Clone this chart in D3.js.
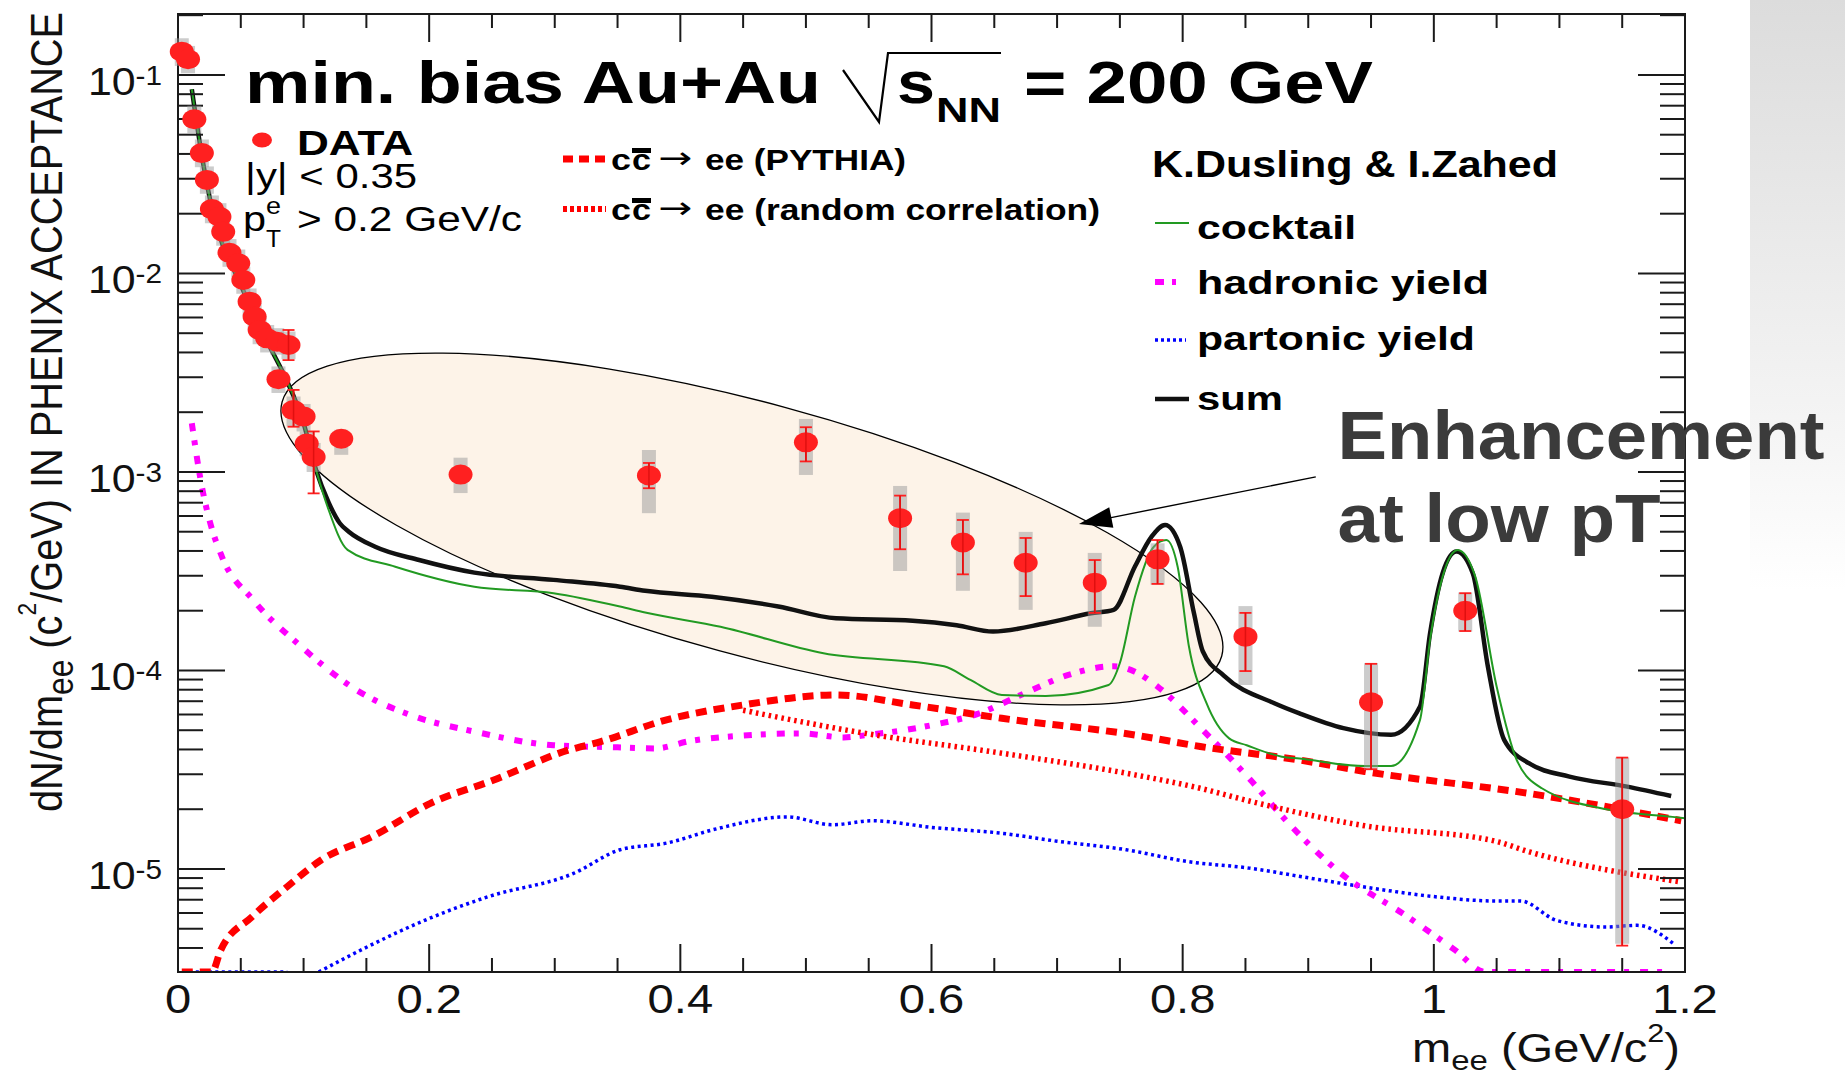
<!DOCTYPE html>
<html>
<head>
<meta charset="utf-8">
<title>Dielectron mass spectrum, min. bias Au+Au</title>
<script src="https://d3js.org/d3.v7.min.js"></script>
<style>
  body { margin: 0; background: #fff; }
  text { font-family: "Liberation Sans", Arial, Helvetica, sans-serif; }
</style>
</head>
<body>
<script>
const W = 1845, H = 1075;
const frame = {left: 178, right: 1685, top: 14, bottom: 972};

// ---- data points (mass in GeV/c^2, yield dN/dm) ----
const dataMass  = [0.003, 0.008, 0.013, 0.019, 0.023, 0.027, 0.033, 0.036, 0.041, 0.048, 0.052, 0.057,
                   0.061, 0.065, 0.071, 0.079, 0.080, 0.088, 0.092, 0.100, 0.1025, 0.108, 0.130, 0.225,
                   0.375, 0.500, 0.575, 0.625, 0.675, 0.730, 0.780, 0.850, 0.950, 1.025, 1.150];
const dataYield = [0.131, 0.120, 0.0598, 0.0404, 0.0296, 0.0211, 0.0193, 0.0162, 0.0127, 0.01125, 0.00927, 0.00721,
                   0.00606, 0.00519, 0.00471, 0.00453, 0.00293, 0.00436, 0.00205, 0.0019, 0.00139, 0.00119, 0.00147, 9.7e-4,
                   9.6e-4, 1.41e-3, 5.85e-4, 4.41e-4, 3.49e-4, 2.77e-4, 3.63e-4, 1.48e-4, 6.92e-5, 2.0e-4, 2.0e-5];
// statistical errors (null = hidden behind the marker)
const statLow  = [null, null, null, null, null, null, null, null, null, null, null, null,
                  null, null, null, null, null, 3.66e-3, 1.69e-3, null, null, 7.8e-4, null, null,
                  8.28e-4, 1.13e-3, 4.08e-4, 3.05e-4, 2.37e-4, 1.95e-4, 2.73e-4, 9.93e-5, 3.18e-5, 1.58e-4, 4.11e-6];
const statHigh = [null, null, null, null, null, null, null, null, null, null, null, null,
                  null, null, null, null, null, 5.19e-3, 2.59e-3, null, null, 1.6e-3, null, null,
                  1.11e-3, 1.68e-3, 7.6e-4, 5.73e-4, 4.65e-4, 3.6e-4, 4.54e-4, 1.95e-4, 1.08e-4, 2.45e-4, 3.64e-5];
// systematic errors (gray boxes)
const sysLow  = [0.111, 0.102, 0.0508, 0.0343, 0.0252, 0.0179, 0.0164, 0.0138, 0.0108, 0.0096, 0.0079, 0.0061,
                 0.0052, 0.0044, 0.0040, 0.0039, 0.0025, 0.0037, 0.0017, 0.0016, 0.0012, 0.0010, 1.22e-3, 7.83e-4,
                 6.2e-4, 9.66e-4, 3.17e-4, 2.52e-4, 2.02e-4, 1.66e-4, 2.7e-4, 8.45e-5, 3.15e-5, 1.57e-4, 4.2e-6];
const sysHigh = [0.153, 0.140, 0.070, 0.0473, 0.0346, 0.0247, 0.0226, 0.019, 0.0149, 0.0132, 0.0108, 0.0084,
                 0.0071, 0.0061, 0.0055, 0.0053, 0.0034, 0.0051, 0.0024, 0.0022, 0.0016, 0.0014, 1.63e-3, 1.18e-3,
                 1.29e-3, 1.85e-3, 8.5e-4, 6.24e-4, 4.99e-4, 3.91e-4, 4.37e-4, 2.11e-4, 1.09e-4, 2.47e-4, 3.64e-5];

// ---- model curves ----
const sumMass  = [0.011, 0.020, 0.028, 0.036, 0.047, 0.060, 0.073, 0.0865, 0.100, 0.110, 0.120, 0.129, 0.136, 0.157,
                  0.192, 0.236, 0.299, 0.352, 0.372, 0.425, 0.478, 0.524, 0.585, 0.620, 0.649, 0.691, 0.727, 0.745,
                  0.762, 0.775, 0.786, 0.798, 0.809, 0.816, 0.833, 0.873, 0.893, 0.928, 0.966, 0.989, 0.997, 1.007,
                  1.018, 1.031, 1.043, 1.056, 1.076, 1.108, 1.154, 1.189];
const sumYield = [0.0847, 0.0359, 0.0201, 0.01365, 0.00964, 0.00631, 0.00428, 0.0029, 0.00176, 0.00102, 7.0e-4, 5.5e-4, 5.0e-4, 4.2e-4,
                  3.6e-4, 3.11e-4, 2.86e-4, 2.64e-4, 2.52e-4, 2.35e-4, 2.10e-4, 1.83e-4, 1.78e-4, 1.69e-4, 1.57e-4, 1.73e-4, 1.94e-4, 2.02e-4,
                  3.34e-4, 4.7e-4, 5.4e-4, 4.2e-4, 1.94e-4, 1.25e-4, 9.4e-5, 6.84e-5, 6.08e-5, 5.12e-5, 4.74e-5, 6.58e-5, 1.54e-4, 3.09e-4,
                  3.97e-4, 3.09e-4, 1.05e-4, 4.47e-5, 3.4e-5, 2.92e-5, 2.6e-5, 2.33e-5];

const cocktailMass  = [0.011, 0.020, 0.028, 0.036, 0.047, 0.060, 0.073, 0.0865, 0.100, 0.110, 0.119, 0.135, 0.173, 0.236,
                       0.299, 0.352, 0.372, 0.432, 0.514, 0.610, 0.631, 0.656, 0.691, 0.741, 0.750, 0.762, 0.777, 0.787,
                       0.796, 0.805, 0.819, 0.837, 0.851, 0.879, 0.893, 0.945, 0.966, 0.989, 0.997, 1.007, 1.019, 1.033,
                       1.050, 1.066, 1.086, 1.141, 1.190, 1.200];
const cocktailYield = [0.0847, 0.0359, 0.0201, 0.01365, 0.00964, 0.00631, 0.00428, 0.0029, 0.00176, 0.00102, 6.7e-4, 4.05e-4, 3.33e-4, 2.64e-4,
                       2.45e-4, 2.1e-4, 1.96e-4, 1.66e-4, 1.22e-4, 1.05e-4, 8.96e-5, 7.53e-5, 7.44e-5, 8.45e-5, 1.09e-4, 2.35e-4, 4.2e-4, 4.54e-4,
                       3.33e-4, 1.32e-4, 6.84e-5, 4.55e-5, 4.2e-5, 3.68e-5, 3.6e-5, 3.3e-5, 3.3e-5, 5.64e-5, 1.43e-4, 2.97e-4, 4.05e-4, 2.97e-4,
                       8.3e-5, 3.54e-5, 2.55e-5, 1.98e-5, 1.83e-5, 1.8e-5];

const hadronMass  = [0.011, 0.019, 0.025, 0.035, 0.060, 0.098, 0.142, 0.189, 0.236, 0.299, 0.350, 0.380, 0.407, 0.450,
                     0.496, 0.530, 0.549, 0.600, 0.638, 0.674, 0.709, 0.745, 0.762, 0.780, 0.816, 0.852, 0.887, 0.926,
                     0.975, 1.017, 1.041, 1.060, 1.190];
const hadronYield = [1.76e-3, 8.43e-4, 5.73e-4, 3.74e-4, 2.26e-4, 1.32e-4, 7.98e-5, 5.85e-5, 4.92e-5, 4.2e-5, 4.1e-5, 4.05e-5, 4.4e-5, 4.7e-5,
                     4.82e-5, 4.6e-5, 4.73e-5, 5.3e-5, 6.08e-5, 7.67e-5, 9.5e-5, 1.05e-4, 9.86e-5, 8.3e-5, 5.01e-5, 2.9e-5, 1.63e-5, 9.5e-6,
                     5.98e-6, 3.9e-6, 3.0e-6, 2.0e-6, 2.0e-6];

const partonMass  = [0.009, 0.087, 0.100, 0.112, 0.151, 0.197, 0.247, 0.315, 0.352, 0.389, 0.430, 0.485, 0.521, 0.553,
                     0.600, 0.657, 0.700, 0.755, 0.804, 0.853, 0.902, 0.951, 1.000, 1.049, 1.069, 1.098, 1.137, 1.162, 1.191];
const partonYield = [2e-6, 2e-6, null, 3.0e-6, 4.06e-6, 5.53e-6, 7.25e-6, 9.5e-6, 1.25e-5, 1.35e-5, 1.6e-5, 1.83e-5, 1.67e-5, 1.75e-5,
                     1.62e-5, 1.51e-5, 1.38e-5, 1.25e-5, 1.09e-5, 1.01e-5, 8.98e-6, 8.0e-6, 7.26e-6, 6.9e-6, 6.9e-6, 5.5e-6, 5.1e-6, 5.2e-6, 4.2e-6];

const pythiaMass  = [0.003, 0.027, 0.034, 0.059, 0.087, 0.114, 0.155, 0.201, 0.251, 0.311, 0.336, 0.389, 0.450, 0.524,
                     0.585, 0.656, 0.762, 0.814, 0.893, 0.945, 1.076, 1.197];
const pythiaYield = [2.0e-6, 3.0e-6, 3.9e-6, 5.75e-6, 8.15e-6, 1.11e-5, 1.46e-5, 2.14e-5, 2.8e-5, 3.97e-5, 4.37e-5, 5.64e-5, 6.7e-5, 7.53e-5,
                     6.7e-5, 5.74e-5, 4.73e-5, 4.14e-5, 3.54e-5, 3.1e-5, 2.4e-5, 1.75e-5];

const randomMass  = [0.450, 0.549, 0.656, 0.762, 0.814, 0.853, 0.945, 1.049, 1.076, 1.197];
const randomYield = [6.3e-5, 4.8e-5, 3.83e-5, 2.98e-5, 2.55e-5, 2.2e-5, 1.65e-5, 1.38e-5, 1.22e-5, 8.6e-6];

// ---- ticks ----
const xTickValues = [0, 0.2, 0.4, 0.6, 0.8, 1, 1.2];
const xTickLabels = ['0', '0.2', '0.4', '0.6', '0.8', '1', '1.2'];
const yTickExps   = [-1, -2, -3, -4, -5];

// ---- annotation anchors (data coordinates) ----
const ellipseCenter = [0.457, 5.16e-4];
const arrowFrom = [0.906, 9.44e-4];
const arrowTo   = [0.7174, 5.47e-4];

const x = d3.scaleLinear().domain([0, 1.2]).range([frame.left, frame.right]);
const y = d3.scaleLog().domain([Math.pow(10, -5.519), Math.pow(10, -0.693)])
    .range([frame.bottom, frame.top]).clamp(true);

const svg = d3.select('body').append('svg')
    .attr('width', W)
    .attr('height', H);

const defs = svg.append('defs');
const grad = defs.append('linearGradient').attr('id', 'slideGrad')
    .attr('x1', 0).attr('y1', 0).attr('x2', 0).attr('y2', 1);
grad.append('stop').attr('offset', '0%').attr('stop-color', '#dcdcdc');
grad.append('stop').attr('offset', '42%').attr('stop-color', '#f6f6f6');
grad.append('stop').attr('offset', '55%').attr('stop-color', '#ffffff');
defs.append('clipPath').attr('id', 'plotClip')
    .append('rect')
    .attr('x', frame.left).attr('y', frame.top)
    .attr('width', frame.right - frame.left).attr('height', frame.bottom - frame.top);

svg.append('rect').attr('width', W).attr('height', H).attr('fill', '#fff');
svg.append('rect').attr('x', 1750).attr('y', 0).attr('width', W - 1750).attr('height', H)
    .attr('fill', 'url(#slideGrad)');

// highlighted region
svg.append('ellipse')
    .attr('transform', `translate(${x(ellipseCenter[0])},${y(ellipseCenter[1])}) rotate(15.13)`)
    .attr('rx', 486.7).attr('ry', 126.1)
    .attr('fill', '#fdf3e8')
    .attr('stroke', '#000')
    .attr('stroke-width', 1.3);

// curves
const line = d3.line()
    .defined(d => d[1] != null)
    .x(d => x(d[0]))
    .y(d => y(d[1]))
    .curve(d3.curveMonotoneX);

const curves = [
    {m: partonMass,   v: partonYield,   color: '#0000ff', width: 3.5, dash: '3,3.5'},
    {m: hadronMass,   v: hadronYield,   color: '#ff00ff', width: 6,   dash: '8,9,5,11'},
    {m: randomMass,   v: randomYield,   color: '#ff0000', width: 5.5, dash: '2.5,4'},
    {m: pythiaMass,   v: pythiaYield,   color: '#ff0000', width: 7,   dash: '11,7'},
    {m: sumMass,      v: sumYield,      color: '#111111', width: 4.5, dash: null},
    {m: cocktailMass, v: cocktailYield, color: '#229a22', width: 2,   dash: null}
];

const curveLayer = svg.append('g').attr('clip-path', 'url(#plotClip)');
curveLayer.selectAll('path')
    .data(curves)
    .enter()
    .append('path')
        .attr('d', c => line(d3.zip(c.m, c.v)))
        .attr('fill', 'none')
        .attr('stroke', c => c.color)
        .attr('stroke-width', c => c.width)
        .attr('stroke-dasharray', c => c.dash)
        .attr('stroke-linejoin', 'round');

// frame and ticks
svg.append('rect')
    .attr('x', frame.left).attr('y', frame.top)
    .attr('width', frame.right - frame.left).attr('height', frame.bottom - frame.top)
    .attr('fill', 'none').attr('stroke', '#1a1a1a').attr('stroke-width', 2);

let yTicks = [];
for (let e = -6; e <= 0; e++) {
    for (let k = 1; k <= 9; k++) {
        let v = k * Math.pow(10, e);
        if (v >= y.domain()[0] && v <= y.domain()[1]) yTicks.push({v: v, major: k === 1});
    }
}
let xTicks = d3.range(0, 1.2001, 0.05).map(v => ({v: v, major: Math.abs(v / 0.2 - Math.round(v / 0.2)) < 1e-6}));

let tickG = svg.append('g').attr('stroke', '#1a1a1a').attr('stroke-width', 2);
yTicks.forEach(t => {
    let len = t.major ? 47 : 25;
    tickG.append('line').attr('x1', frame.left).attr('x2', frame.left + len)
        .attr('y1', y(t.v)).attr('y2', y(t.v));
    tickG.append('line').attr('x1', frame.right - len).attr('x2', frame.right)
        .attr('y1', y(t.v)).attr('y2', y(t.v));
});
xTicks.forEach(t => {
    let len = t.major ? 28 : 14;
    tickG.append('line').attr('x1', x(t.v)).attr('x2', x(t.v))
        .attr('y1', frame.bottom).attr('y2', frame.bottom - len);
    tickG.append('line').attr('x1', x(t.v)).attr('x2', x(t.v))
        .attr('y1', frame.top).attr('y2', frame.top + len);
});

// tick labels
svg.selectAll('.xlab')
    .data(xTickValues)
    .enter()
    .append('text')
        .attr('class', 'xlab')
        .attr('transform', d => `translate(${x(d)},1013) scale(1.15,1)`)
        .attr('text-anchor', 'middle')
        .attr('font-size', 41)
        .attr('fill', '#111')
        .text((d, i) => xTickLabels[i]);

let ylab = svg.selectAll('.ylab')
    .data(yTickExps)
    .enter()
    .append('text')
        .attr('class', 'ylab')
        .attr('transform', d => `translate(162,${y(Math.pow(10, d)) + 20}) scale(1.1,1)`)
        .attr('text-anchor', 'end')
        .attr('font-size', 39)
        .attr('fill', '#111');
ylab.append('tspan').text('10');
ylab.append('tspan').attr('font-size', 27).attr('dy', -10).text(d => String(d));

// data: systematic boxes, stat bars, markers
let idx = d3.range(dataMass.length);
let dataG = svg.append('g');
dataG.selectAll('.sys')
    .data(idx)
    .enter()
    .append('rect')
        .attr('x', i => x(dataMass[i]) - 7)
        .attr('y', i => y(sysHigh[i]))
        .attr('width', 14)
        .attr('height', i => y(sysLow[i]) - y(sysHigh[i]))
        .attr('fill', '#9a9a9a')
        .attr('opacity', 0.5);

let withStat = idx.filter(i => statLow[i] != null);
let statG = dataG.append('g').attr('stroke', '#ff2020').attr('stroke-width', 1.8);
withStat.forEach(i => {
    let cx = x(dataMass[i]);
    statG.append('line').attr('x1', cx).attr('x2', cx).attr('y1', y(statLow[i])).attr('y2', y(statHigh[i]));
    statG.append('line').attr('x1', cx - 6).attr('x2', cx + 6).attr('y1', y(statLow[i])).attr('y2', y(statLow[i]));
    statG.append('line').attr('x1', cx - 6).attr('x2', cx + 6).attr('y1', y(statHigh[i])).attr('y2', y(statHigh[i]));
});

dataG.selectAll('.dot')
    .data(idx)
    .enter()
    .append('ellipse')
        .attr('cx', i => x(dataMass[i]))
        .attr('cy', i => y(dataYield[i]))
        .attr('rx', 12)
        .attr('ry', 10)
        .attr('fill', '#ff2020');
// stat bars re-drawn on top so they show across the markers
withStat.forEach(i => {
    let cx = x(dataMass[i]);
    dataG.append('line').attr('x1', cx).attr('x2', cx)
        .attr('y1', y(statLow[i])).attr('y2', y(statHigh[i]))
        .attr('stroke', '#e01010').attr('stroke-width', 1.5);
});

// helper for stretched text
function label(txt, px, py, size, opts) {
    opts = opts || {};
    let t = svg.append('text')
        .attr('x', px).attr('y', py)
        .attr('font-size', size)
        .attr('font-weight', opts.bold ? 'bold' : 'normal')
        .attr('fill', opts.fill || '#000')
        .text(txt);
    if (opts.family) t.style('font-family', opts.family);
    if (opts.width) t.attr('textLength', opts.width).attr('lengthAdjust', 'spacingAndGlyphs');
    return t;
}

// axis titles
let yTitle = svg.append('text')
    .attr('transform', 'translate(62,812) rotate(-90)')
    .attr('font-size', 45)
    .attr('fill', '#111')
    .attr('textLength', 800)
    .attr('lengthAdjust', 'spacingAndGlyphs');
yTitle.append('tspan').text('dN/dm');
yTitle.append('tspan').attr('font-size', 36).attr('dy', 11).text('ee');
yTitle.append('tspan').attr('dy', -11).text(' (c');
yTitle.append('tspan').attr('font-size', 26).attr('dy', -26).text('2');
yTitle.append('tspan').attr('dy', 26).text('/GeV) IN PHENIX ACCEPTANCE');

let xTitle = svg.append('text')
    .attr('x', 1412).attr('y', 1062)
    .attr('font-size', 40)
    .attr('fill', '#111')
    .attr('textLength', 268)
    .attr('lengthAdjust', 'spacingAndGlyphs');
xTitle.append('tspan').text('m');
xTitle.append('tspan').attr('font-size', 28).attr('dy', 8).text('ee');
xTitle.append('tspan').attr('dy', -8).text(' (GeV/c');
xTitle.append('tspan').attr('font-size', 26).attr('dy', -20).text('2');
xTitle.append('tspan').attr('dy', 20).text(')');

// title
label('min. bias Au+Au', 245, 103, 60, {bold: true, width: 576});
svg.append('path')
    .attr('d', 'M843,70 L879,122 L888,53 L1001,53')
    .attr('fill', 'none').attr('stroke', '#000').attr('stroke-width', 2.2);
label('s', 897, 103, 60, {bold: true, width: 38});
label('NN', 936, 122, 35, {bold: true, width: 65});
label('= 200 GeV', 1024, 103, 60, {bold: true, width: 349});

// left legend
svg.append('ellipse').attr('cx', 262).attr('cy', 140).attr('rx', 10).attr('ry', 7.5).attr('fill', '#ff2020');
label('DATA', 297, 155, 35, {bold: true, width: 116});
label('|y| < 0.35', 245, 188, 35, {width: 172});
label('p', 243, 231, 35, {width: 23});
label('e', 266, 214, 24, {width: 15});
label('T', 266, 247, 24, {width: 15});
label('> 0.2 GeV/c', 297, 231, 35, {width: 225});

// middle legend
const midLegend = [
    {yLine: 159, base: 170, dash: '10,6', width: 7, rest: 'ee (PYTHIA)', len: 201},
    {yLine: 209, base: 220, dash: '4,3', width: 6, rest: 'ee (random correlation)', len: 395}
];
midLegend.forEach(d => {
    svg.append('line').attr('x1', 563).attr('x2', 606).attr('y1', d.yLine).attr('y2', d.yLine)
        .attr('stroke', '#ff0000').attr('stroke-width', d.width).attr('stroke-dasharray', d.dash);
    label('c', 611, d.base, 30, {bold: true, width: 20});
    label('c', 632, d.base, 30, {bold: true, width: 19});
    svg.append('line').attr('x1', 632).attr('x2', 651).attr('y1', d.base - 19.5).attr('y2', d.base - 19.5)
        .attr('stroke', '#000').attr('stroke-width', 5);
    label('\u2192', 658, d.base - 2, 30, {family: '"DejaVu Sans", sans-serif', width: 34});
    label(d.rest, 705, d.base, 30, {bold: true, width: d.len});
});

// right legend
label('K.Dusling & I.Zahed', 1152, 177, 36, {bold: true, width: 406});
const rightLegend = [
    {text: 'cocktail',       yLine: 223, base: 239,   len: 159, color: '#229a22', width: 2,   dash: null,       x2: 1189},
    {text: 'hadronic yield', yLine: 282, base: 294,   len: 292, color: '#ff00ff', width: 6,   dash: '9,8,4,8',  x2: 1181},
    {text: 'partonic yield', yLine: 340, base: 350,   len: 278, color: '#0000ff', width: 3.5, dash: '3,3',      x2: 1186},
    {text: 'sum',            yLine: 399, base: 409.5, len: 86,  color: '#111111', width: 4.5, dash: null,       x2: 1189}
];
rightLegend.forEach(d => {
    svg.append('line').attr('x1', 1155).attr('x2', d.x2).attr('y1', d.yLine).attr('y2', d.yLine)
        .attr('stroke', d.color).attr('stroke-width', d.width).attr('stroke-dasharray', d.dash);
    label(d.text, 1197, d.base, 34, {bold: true, width: d.len});
});

// annotation
label('Enhancement', 1337.5, 458.5, 68, {bold: true, fill: '#3b3b3b', width: 487});
label('at low pT', 1337.5, 541.5, 68, {bold: true, fill: '#3b3b3b', width: 323});

let ax0 = x(arrowFrom[0]), ay0 = y(arrowFrom[1]);
let ax1 = x(arrowTo[0]), ay1 = y(arrowTo[1]);
let dx = ax0 - ax1, dy = ay0 - ay1, dl = Math.sqrt(dx * dx + dy * dy);
let ux = dx / dl, uy = dy / dl;
let hl = 33, hw = 10.5;
svg.append('line')
    .attr('x1', ax0).attr('y1', ay0)
    .attr('x2', ax1 + ux * hl * 0.8).attr('y2', ay1 + uy * hl * 0.8)
    .attr('stroke', '#000').attr('stroke-width', 1.4);
svg.append('path')
    .attr('d', `M${ax1},${ay1} L${ax1 + ux * hl - uy * hw},${ay1 + uy * hl + ux * hw} L${ax1 + ux * hl + uy * hw},${ay1 + uy * hl - ux * hw} Z`)
    .attr('fill', '#000');
</script>
</body>
</html>
